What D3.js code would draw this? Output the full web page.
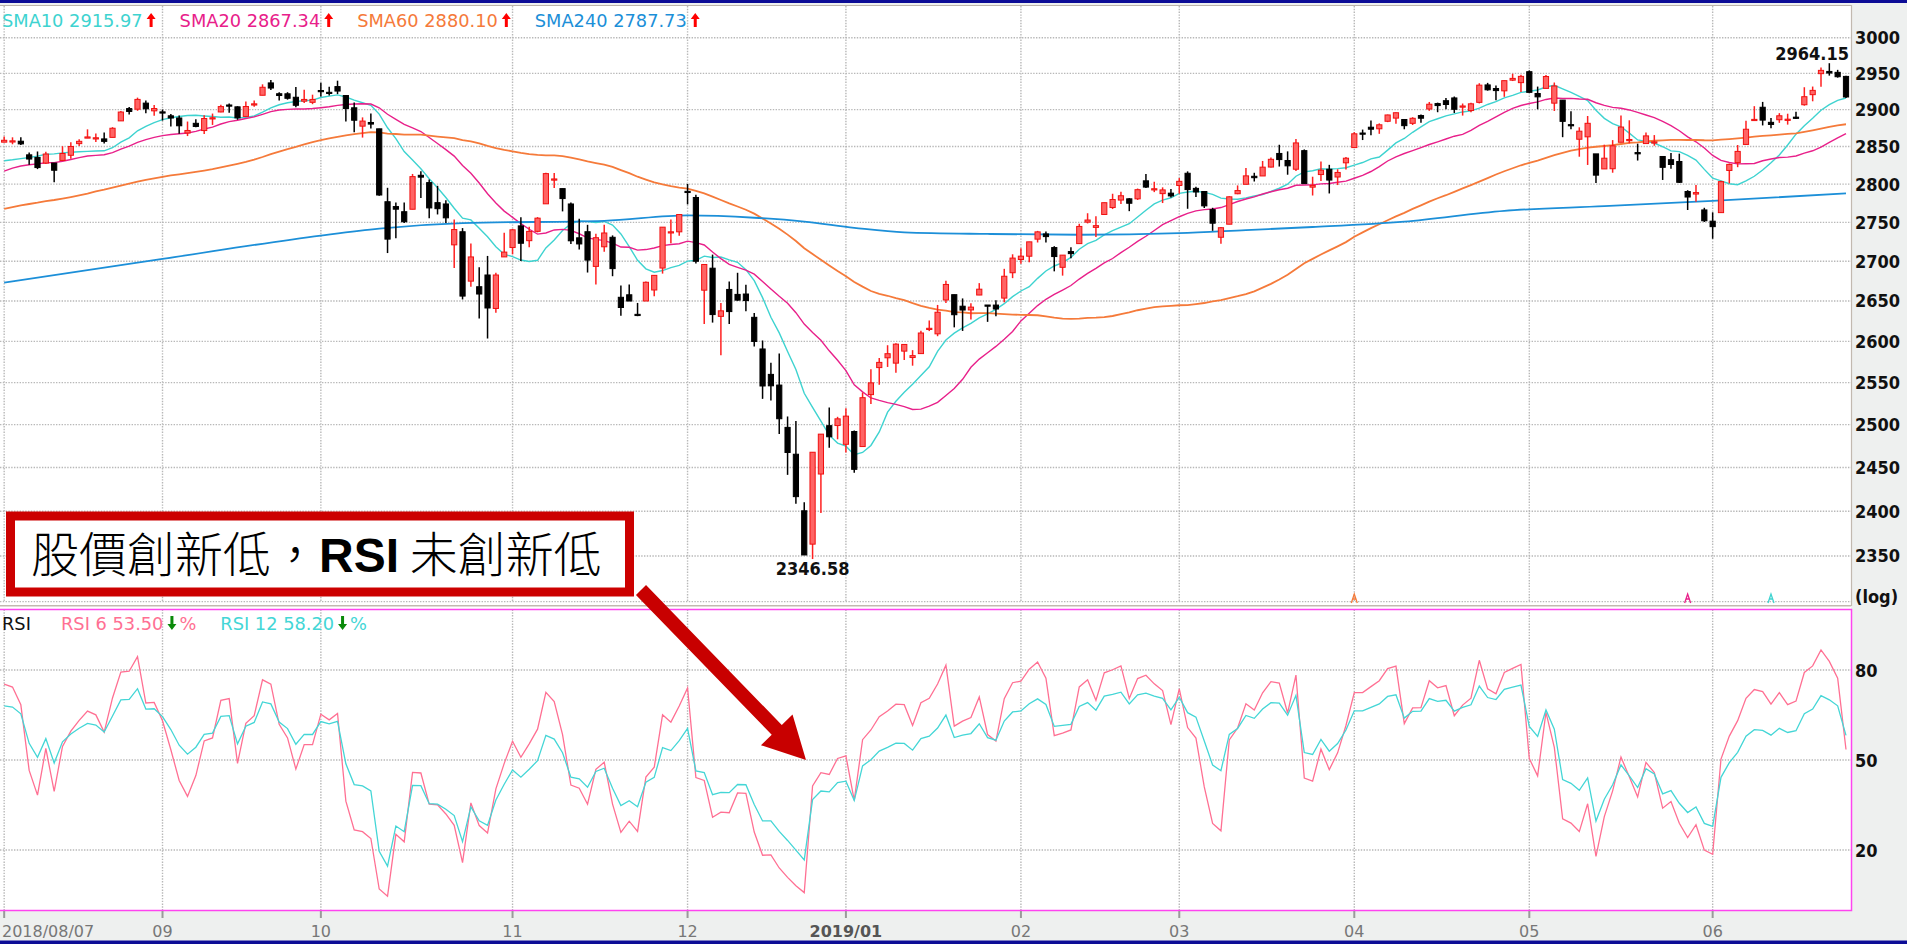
<!DOCTYPE html>
<html>
<head>
<meta charset="utf-8">
<script src="https://cdn.jsdelivr.net/npm/d3@7"></script>
<style>
  html, body { margin: 0; padding: 0; background: #fff; overflow: hidden; }
  svg { display: block; }
</style>
</head>
<body>
<div class="canvas"></div>
<script>
// ---------- data (daily bars 2018/08/07 - 2019/06/25) ----------
const monthLabels = ['2018/08/07', '09', '10', '11', '12', '2019/01', '02', '03', '04', '05', '06']
const monthDays = [19, 19, 23, 21, 19, 21, 19, 21, 21, 22, 17]

const opens = [
  2855.92,2856.79,2857.19,2838.90,2835.46,2827.88,2827.95,2831.44,2838.32,2853.93,2861.51,2860.99,2860.29,2862.35,2884.69,2901.45,2900.62,2908.94,2898.37,
  2896.96,2891.59,2888.64,2868.26,2881.39,2871.57,2888.29,2896.85,2906.38,2903.83,2890.74,2906.60,2919.73,2936.76,2921.83,2921.75,2916.98,2911.65,2910.03,
  2926.29,2923.80,2931.69,2919.35,2902.54,2877.53,2882.51,2873.90,2776.87,2770.54,2763.83,2767.05,2811.67,2802.00,2775.66,2773.94,2721.03,2737.87,2674.88,2667.86,2682.65,2640.68,2705.60,
  2717.58,2745.45,2726.37,2738.40,2774.13,2806.38,2794.10,2773.93,2730.05,2737.90,2693.52,2718.54,2730.74,2654.60,2657.74,2633.36,2649.97,2663.75,2691.45,2736.97,2737.76,
  2790.50,2782.43,2663.51,2691.26,2630.86,2664.44,2658.23,2658.70,2629.68,2590.75,2559.90,2547.05,2496.77,2465.38,2400.56,2363.12,2442.50,2498.77,2498.94,
  2476.96,2491.92,2474.33,2535.61,2568.11,2580.00,2573.51,2588.11,2580.31,2585.10,2614.75,2609.28,2651.27,2657.88,2643.48,2638.84,2657.44,2644.97,2644.89,2653.62,2685.49,
  2702.32,2706.49,2728.34,2735.05,2717.53,2692.36,2712.40,2722.61,2750.30,2743.50,2760.24,2769.28,2779.05,2780.67,2780.67,2804.35,2792.36,2787.50,2788.11,
  2798.22,2814.37,2794.41,2790.27,2766.53,2730.79,2747.61,2787.34,2799.78,2810.38,2810.79,2822.61,2840.76,2831.34,2819.72,2844.52,2796.01,2812.66,2819.72,2809.40,2828.27,
  2848.63,2868.24,2876.09,2873.99,2884.16,2888.46,2886.58,2881.37,2891.92,2900.86,2908.32,2912.26,2916.04,2904.81,2898.78,2909.99,2934.00,2928.99,2925.81,2940.58,2937.14,
  2952.33,2922.16,2929.21,2908.89,2913.03,2879.61,2859.84,2863.10,2840.19,2820.12,2820.38,2855.80,2858.60,2841.94,2854.02,2856.06,2836.70,2832.41,2830.03,2790.25,2786.94,2766.15,
  2751.53,2762.64,2818.09,2828.51,2852.87,2885.83,2903.27,2882.73,2886.24,2886.82,2889.75,2906.71,2920.55,2949.60,2952.71,2951.42,2945.78
]
const highs = [
  2863.43,2862.44,2862.48,2842.20,2843.40,2843.11,2827.95,2850.49,2855.63,2859.76,2873.23,2867.54,2868.78,2876.16,2898.25,2903.77,2916.50,2912.46,2906.32,
  2900.18,2894.21,2892.05,2883.81,2886.93,2892.52,2894.65,2906.76,2908.30,2904.65,2911.17,2912.36,2934.80,2940.91,2923.79,2923.95,2931.15,2927.22,2920.53,
  2937.06,2931.42,2939.86,2919.78,2909.64,2889.45,2894.83,2874.02,2795.14,2775.77,2775.99,2813.46,2816.94,2806.04,2797.77,2778.94,2753.59,2742.59,2722.70,2692.38,2706.85,2685.43,2736.69,
  2741.67,2756.55,2744.27,2756.82,2815.15,2814.75,2794.10,2775.99,2754.60,2746.80,2735.38,2746.75,2733.16,2669.44,2670.73,2647.55,2674.35,2682.53,2744.00,2753.75,2760.88,
  2800.18,2785.93,2696.15,2708.54,2647.51,2674.35,2685.44,2670.19,2635.07,2601.13,2573.99,2585.29,2509.63,2504.41,2410.34,2467.76,2489.10,2520.27,2509.24,
  2519.49,2493.14,2538.07,2566.16,2579.82,2595.32,2597.82,2596.27,2589.32,2613.08,2625.76,2645.06,2675.47,2657.88,2653.19,2647.20,2672.38,2644.97,2650.93,2690.44,2708.95,
  2716.66,2724.99,2738.98,2738.08,2719.32,2708.07,2718.05,2748.19,2761.85,2757.90,2775.66,2787.33,2789.88,2781.58,2794.20,2813.49,2803.12,2795.76,2793.73,
  2808.02,2816.88,2796.44,2790.27,2768.98,2744.13,2784.00,2798.32,2821.24,2815.00,2830.73,2835.41,2852.42,2843.54,2860.31,2846.16,2809.79,2829.87,2825.56,2819.71,2836.03,
  2869.40,2872.90,2885.25,2881.28,2893.24,2895.95,2886.88,2889.71,2893.42,2910.54,2909.60,2916.06,2918.00,2908.40,2909.51,2936.31,2936.83,2933.10,2939.88,2949.52,2948.22,
  2954.13,2931.68,2947.85,2937.32,2913.03,2897.96,2875.97,2891.31,2840.19,2852.54,2858.68,2892.15,2885.48,2853.86,2868.88,2865.47,2836.70,2841.36,2840.51,2792.03,2799.00,2768.98,
  2763.07,2804.49,2827.28,2852.10,2884.97,2904.77,2910.61,2888.57,2895.24,2894.45,2897.27,2930.79,2931.74,2958.06,2964.15,2954.92,2946.52
]
const lows = [
  2855.92,2853.09,2851.98,2825.81,2819.88,2826.58,2802.49,2831.44,2833.73,2850.62,2861.32,2856.05,2854.03,2862.35,2884.69,2893.50,2898.40,2895.22,2891.73,
  2885.13,2876.92,2867.29,2864.12,2875.94,2866.78,2879.20,2896.39,2895.77,2886.16,2890.43,2903.82,2919.73,2927.11,2912.63,2913.70,2903.28,2909.27,2907.50,
  2917.91,2919.37,2921.36,2883.92,2869.29,2862.08,2874.27,2784.86,2710.51,2729.44,2749.03,2766.91,2781.81,2755.18,2760.27,2749.22,2691.43,2651.89,2667.84,2628.16,2603.54,2635.34,2705.60,
  2708.85,2700.44,2717.94,2737.08,2774.13,2794.99,2764.24,2722.00,2714.98,2685.75,2670.75,2712.16,2681.09,2631.52,2649.82,2631.09,2649.97,2655.89,2684.38,2722.94,2732.76,
  2773.38,2697.18,2621.53,2623.14,2583.23,2621.30,2650.26,2637.27,2593.84,2530.54,2528.71,2488.96,2441.53,2408.55,2351.10,2346.58,2397.94,2472.89,2482.82,
  2467.47,2443.96,2474.33,2524.56,2547.56,2568.89,2562.02,2577.40,2570.41,2585.10,2612.68,2606.36,2647.58,2617.27,2612.86,2627.01,2657.33,2624.06,2631.05,2648.34,2678.65,
  2696.88,2698.75,2724.03,2724.15,2687.26,2681.83,2703.79,2722.61,2748.63,2731.23,2760.24,2767.29,2774.06,2764.55,2779.11,2794.99,2789.47,2775.13,2782.51,
  2787.38,2767.66,2782.97,2768.69,2739.09,2722.27,2747.61,2786.73,2799.78,2803.46,2810.79,2821.99,2823.27,2812.43,2817.38,2800.47,2785.02,2803.99,2787.72,2798.77,2819.23,
  2848.63,2858.75,2865.17,2867.14,2882.99,2880.78,2873.33,2879.13,2881.99,2898.37,2896.48,2900.71,2895.45,2891.90,2896.35,2908.53,2926.05,2912.84,2917.56,2939.35,2924.11,
  2923.36,2900.50,2929.21,2898.21,2862.60,2873.28,2836.40,2825.39,2801.43,2820.12,2815.08,2855.80,2854.23,2831.29,2854.02,2851.11,2805.49,2820.19,2801.58,2766.06,2776.74,2750.52,
  2728.81,2762.64,2800.92,2822.45,2852.87,2885.51,2878.53,2874.68,2881.99,2879.62,2887.30,2905.44,2911.43,2931.50,2946.87,2944.05,2916.01
]
const closes = [
  2858.45,2857.70,2853.58,2833.28,2821.93,2839.96,2818.37,2840.69,2850.13,2857.05,2862.96,2861.82,2856.98,2874.69,2896.74,2897.52,2914.04,2901.13,2901.52,
  2896.72,2888.60,2878.05,2871.68,2877.13,2887.89,2888.92,2904.18,2904.98,2888.80,2904.31,2907.95,2930.75,2929.67,2919.37,2915.56,2905.97,2914.00,2913.98,
  2924.59,2923.43,2925.51,2901.61,2885.57,2884.43,2880.34,2785.68,2728.37,2767.13,2750.79,2809.92,2809.21,2768.78,2767.78,2755.88,2740.69,2656.10,2705.57,2658.69,2641.25,2682.63,2711.74,
  2740.37,2723.06,2738.31,2755.45,2813.89,2806.83,2781.01,2726.22,2722.18,2701.58,2730.20,2736.27,2690.73,2641.89,2649.93,2632.56,2673.45,2682.17,2743.79,2737.80,2760.17,
  2790.37,2700.06,2695.95,2633.08,2637.72,2636.78,2651.07,2650.54,2599.95,2545.94,2546.16,2506.96,2467.42,2416.62,2351.10,2467.70,2488.83,2485.74,2506.85,
  2510.03,2447.89,2531.94,2549.69,2574.41,2584.96,2596.64,2596.26,2582.61,2610.30,2616.10,2635.96,2670.71,2632.90,2638.70,2642.33,2664.76,2643.85,2640.00,2681.05,2704.10,
  2706.53,2724.87,2737.70,2731.61,2706.05,2707.88,2709.80,2744.73,2753.03,2745.73,2775.60,2779.76,2784.70,2774.88,2792.67,2796.11,2793.90,2792.38,2784.49,
  2803.69,2792.81,2789.65,2771.45,2748.93,2743.07,2783.30,2791.52,2810.92,2808.48,2822.48,2832.94,2832.57,2824.23,2854.88,2800.71,2798.36,2818.46,2805.37,2815.44,2834.40,
  2867.19,2867.24,2873.40,2879.39,2892.74,2895.77,2878.20,2888.21,2888.32,2907.41,2905.58,2907.06,2900.45,2905.03,2907.97,2933.68,2927.25,2926.17,2939.88,2943.03,2945.83,
  2923.73,2917.52,2945.64,2932.47,2884.05,2879.42,2870.72,2881.40,2811.87,2834.41,2850.96,2876.32,2859.53,2840.23,2864.36,2856.27,2822.24,2826.06,2802.39,2783.02,2788.86,2752.06,
  2744.45,2803.27,2826.15,2843.49,2873.34,2886.73,2885.72,2879.84,2891.64,2886.98,2889.67,2917.75,2926.46,2954.18,2950.46,2945.35,2917.38
]
// closes before the first visible bar (2018/05/10 - 2018/08/06), used for averages / RSI warm-up
const priorCloses = [
  2723.07,2727.72,2730.13,2711.45,2722.46,2720.13,2712.97,2733.01,2724.44,2733.29,2727.76,2721.33,2689.86,2724.01,2705.27,
  2734.62,2746.87,2748.80,2772.35,2770.37,2779.03,2782.00,2786.85,2775.63,2782.49,2779.66,2773.75,2762.59,2767.32,2749.76,2754.88,2717.07,2723.06,2699.63,2716.31,2718.37,
  2726.71,2713.22,2736.61,2759.82,2784.17,2793.84,2774.02,2798.29,2801.31,2798.43,2809.55,2815.62,2804.49,2801.83,2806.98,2820.40,2846.07,2837.44,2818.82,2802.60,2816.29,2813.36,2827.22,2840.35,2850.40
]
// SMA240 (bar index, value)
const sma240Idx = [0, 19, 38, 45, 55, 72, 82, 90, 96, 102, 108, 118, 129, 141, 149, 157, 168, 180, 192, 205, 221]
const sma240Vals = [2673, 2703, 2733, 2742, 2749, 2752, 2759, 2756, 2751, 2743, 2737, 2735, 2734, 2736, 2740, 2744, 2751, 2765, 2771, 2778, 2787.73]

const priceTicks = [2350, 2400, 2450, 2500, 2550, 2600, 2650, 2700, 2750, 2800, 2850, 2900, 2950, 3000]
const rsiTicks = [20, 50, 80]
const smaNames = ['SMA10', 'SMA20', 'SMA60', 'SMA240']
const smaLast = ['2915.97', '2867.34', '2880.10', '2787.73']
const rsiNames = ['RSI 6', 'RSI 12']
const rsiLast = ['53.50', '58.20']
const signalIdx = [162, 202, 212]   // small cross markers at the foot of the price panel
const signalLine = [2, 1, 0]        // which SMA each marker belongs to

// ---------- layout ----------
const W = 1907, H = 944
const plotR = 1851
const priceTop = 6, priceBot = 602
const rsiTop = 609.5, rsiBot = 910.5
const smaColors = ['#3ed3d0', '#e8208a', '#f57a3a', '#1c8fd8']
const rsiColors = ['#ff7093', '#44d6d6']
const numFont = "'DejaVu Sans Condensed', 'DejaVu Sans', sans-serif"

const svg = d3.select('.canvas').append('svg').attr('width', W).attr('height', H)

// backgrounds and frame
svg.append('rect').attr('width', W).attr('height', H).attr('fill', '#eef0ef')
svg.append('rect').attr('x', 0).attr('y', priceTop).attr('width', plotR).attr('height', rsiBot - priceTop).attr('fill', '#fff')

const n = closes.length
const x = d3.scaleLinear().domain([-0.5, n - 0.4]).range([0, plotR])
const y = d3.scaleLog().domain([2300, 3000]).range([601.6, 37.7])
const yR = d3.scaleLinear().domain([0, 100]).range([910, 610])

// month start indices from the trading-day counts
const monthStart = []
monthDays.reduce((acc, d) => { monthStart.push(acc); return acc + d }, 0)

// derived indicators from the closes
const all = priorCloses.concat(closes)
const off = priorCloses.length
const sma = (len) => closes.map((c, i) => d3.mean(all.slice(off + i - len + 1, off + i + 1)))
const rsi = (len) => {
  let g = 0, l = 0
  const out = []
  for (let k = 1; k < all.length; k++) {
    const ch = all[k] - all[k - 1]
    const up = Math.max(ch, 0), dn = Math.max(-ch, 0)
    if (k <= len) { g += up / len; l += dn / len }
    else { g = (g * (len - 1) + up) / len; l = (l * (len - 1) + dn) / len }
    if (k >= off) out.push(100 * g / (g + l))
  }
  return out
}
const sma10 = sma(10), sma20 = sma(20), sma60 = sma(60)
const rsi6 = rsi(6), rsi12 = rsi(12)

// clip paths
const defs = svg.append('defs')
defs.append('clipPath').attr('id', 'clipP').append('rect').attr('x', 0).attr('y', priceTop).attr('width', plotR).attr('height', priceBot - priceTop + 1)
defs.append('clipPath').attr('id', 'clipR').append('rect').attr('x', 0).attr('y', rsiTop).attr('width', plotR).attr('height', rsiBot - rsiTop)

// grid
const grid = svg.append('g').attr('stroke', '#b8b8b8').attr('stroke-width', 1.4).attr('stroke-dasharray', '1.4,1.4').attr('fill', 'none')
grid.selectAll('.hp').data([2300].concat(priceTicks)).join('line')
  .attr('x1', 0).attr('x2', plotR).attr('y1', d => y(d)).attr('y2', d => y(d))
grid.selectAll('.hr').data(rsiTicks).join('line')
  .attr('x1', 0).attr('x2', plotR).attr('y1', d => yR(d)).attr('y2', d => yR(d))
grid.selectAll('.vp').data(monthStart).join('line')
  .attr('x1', d => x(d)).attr('x2', d => x(d)).attr('y1', priceTop).attr('y2', priceBot)
grid.selectAll('.vr').data(monthStart).join('line')
  .attr('x1', d => x(d)).attr('x2', d => x(d)).attr('y1', rsiTop).attr('y2', rsiBot)

// frame lines
svg.append('rect').attr('x', 0).attr('y', 0).attr('width', W).attr('height', 3).attr('fill', '#0c0c96')
svg.append('line').attr('x1', 0).attr('x2', plotR).attr('y1', 5.5).attr('y2', 5.5).attr('stroke', '#bcb3aa').attr('stroke-width', 1.2)
svg.append('line').attr('x1', plotR + 0.5).attr('x2', plotR + 0.5).attr('y1', 5).attr('y2', 606).attr('stroke', '#c2b9b0').attr('stroke-width', 1.2)
svg.append('line').attr('x1', 0).attr('x2', plotR).attr('y1', 605.7).attr('y2', 605.7).attr('stroke', '#c2b9b0').attr('stroke-width', 1.5)
svg.append('rect').attr('x', -2).attr('y', rsiTop).attr('width', plotR + 2.5).attr('height', rsiBot - rsiTop)
  .attr('fill', 'none').attr('stroke', '#ff44f0').attr('stroke-width', 1.5)

// moving averages
const priceG = svg.append('g').attr('clip-path', 'url(#clipP)')
const line = d3.line().x((d, i) => x(i)).y(d => y(d))
const smaSeries = [sma10, sma20, sma60]
const smaWidth = [1.4, 1.4, 1.8, 1.8]
smaSeries.forEach((s, k) => {
  priceG.append('path').datum(s).attr('d', line).attr('fill', 'none')
    .attr('stroke', smaColors[k]).attr('stroke-width', smaWidth[k])
})
priceG.append('path').datum(sma240Idx.map((d, k) => [d, sma240Vals[k]]))
  .attr('d', d3.line().x(d => x(d[0])).y(d => y(d[1])).curve(d3.curveMonotoneX))
  .attr('fill', 'none').attr('stroke', smaColors[3]).attr('stroke-width', smaWidth[3])

// candles
const bars = closes.map((c, i) => ({ i, o: opens[i], h: highs[i], l: lows[i], c }))
const candle = priceG.selectAll('.candle').data(bars).join('g').attr('class', 'candle')
candle.append('line')
  .attr('x1', d => x(d.i)).attr('x2', d => x(d.i))
  .attr('y1', d => y(d.h)).attr('y2', d => y(d.l))
  .attr('stroke', d => d.c >= d.o ? '#ff2020' : '#000').attr('stroke-width', 1.5)
candle.append('rect')
  .attr('x', d => x(d.i) - 2.6).attr('width', 5.2)
  .attr('y', d => y(Math.max(d.o, d.c)))
  .attr('height', d => Math.max(1.2, y(Math.min(d.o, d.c)) - y(Math.max(d.o, d.c))))
  .attr('fill', d => d.c >= d.o ? '#ff6464' : '#000')
  .attr('stroke', d => d.c >= d.o ? '#f01010' : '#000').attr('stroke-width', 1)

// high / low labels
const hiIdx = d3.maxIndex(highs), loIdx = d3.minIndex(lows)
svg.append('text').attr('x', plotR - 2).attr('y', y(highs[hiIdx]) - 3).attr('text-anchor', 'end')
  .attr('font-family', numFont).attr('font-stretch', 'condensed').attr('font-weight', 'bold').attr('font-size', 18)
  .attr('fill', '#111').text(highs[hiIdx].toFixed(2))
svg.append('text').attr('x', x(loIdx)).attr('y', y(lows[loIdx]) + 16).attr('text-anchor', 'middle')
  .attr('font-family', numFont).attr('font-stretch', 'condensed').attr('font-weight', 'bold').attr('font-size', 18)
  .attr('fill', '#111').text(lows[loIdx].toFixed(2))

// signal markers
svg.selectAll('.sig').data(signalIdx).join('path')
  .attr('d', (d, k) => `M${x(d) - 3},${priceBot + 1} L${x(d)},${priceBot - 8} L${x(d) + 3},${priceBot + 1} M${x(d) - 1.6},${priceBot - 3} L${x(d) + 1.6},${priceBot - 3}`)
  .attr('fill', 'none').attr('stroke', (d, k) => smaColors[signalLine[k]]).attr('stroke-width', 1.3)

// RSI lines
const rsiG = svg.append('g').attr('clip-path', 'url(#clipR)')
const rline = d3.line().x((d, i) => x(i)).y(d => yR(d))
;[rsi6, rsi12].forEach((s, k) => {
  rsiG.append('path').datum(s).attr('d', rline).attr('fill', 'none')
    .attr('stroke', rsiColors[k]).attr('stroke-width', 1.3)
})

// right axis labels
const axisR = svg.append('g').attr('font-family', numFont).attr('font-stretch', 'condensed')
  .attr('font-weight', 'bold').attr('font-size', 18).attr('fill', '#111')
axisR.selectAll('.pl').data(priceTicks).join('text').attr('x', 1855).attr('y', d => y(d) + 6.5).text(d => d)
axisR.append('text').attr('x', 1855).attr('y', 603).text('(log)')
axisR.selectAll('.rl').data(rsiTicks).join('text').attr('x', 1855).attr('y', d => yR(d) + 6.5).text(d => d)

// bottom axis
svg.selectAll('.tk').data(monthStart).join('line')
  .attr('x1', d => x(d)).attr('x2', d => x(d)).attr('y1', rsiBot + 0.5).attr('y2', 918)
  .attr('stroke', '#9a9a9a').attr('stroke-width', 2)
svg.selectAll('.ml').data(monthLabels).join('text')
  .attr('x', (d, k) => k === 0 ? 2 : x(monthStart[k]))
  .attr('y', 936.5)
  .attr('text-anchor', (d, k) => k === 0 ? 'start' : 'middle')
  .attr('font-family', "'DejaVu Sans', sans-serif")
  .attr('font-size', 16)
  .attr('font-weight', d => d.length === 7 ? 'bold' : 'normal')
  .attr('fill', d => d.length === 7 ? '#555' : '#777')
  .text(d => d)

// legend arrows
function arrow(g, x0, top, color, down) {
  const h = 14, w = 9, hh = 6
  const p = down
    ? `M${x0 + 3},${top} L${x0 + 6},${top} L${x0 + 6},${top + h - hh} L${x0 + w},${top + h - hh} L${x0 + w / 2},${top + h} L${x0},${top + h - hh} L${x0 + 3},${top + h - hh} Z`
    : `M${x0 + w / 2},${top} L${x0 + w},${top + hh} L${x0 + 6},${top + hh} L${x0 + 6},${top + h} L${x0 + 3},${top + h} L${x0 + 3},${top + hh} L${x0},${top + hh} Z`
  g.append('path').attr('d', p).attr('fill', color)
}

// SMA legend
const leg = svg.append('g').attr('font-family', "'DejaVu Sans', sans-serif").attr('font-size', 17.8)
let lx = 2
smaNames.forEach((name, k) => {
  const t = leg.append('text').attr('x', lx).attr('y', 26.5).attr('fill', smaColors[k]).text(name + ' ' + smaLast[k])
  const w = t.node().getComputedTextLength()
  arrow(leg, lx + w + 4, 13, '#ff0000', false)
  lx += w + 4 + 9 + 24
})

// RSI legend
const rleg = svg.append('g').attr('font-family', "'DejaVu Sans', sans-serif").attr('font-size', 17.8)
rleg.append('text').attr('x', 2).attr('y', 629.5).attr('fill', '#111').text('RSI')
let rx = 61
rsiNames.forEach((name, k) => {
  const t = rleg.append('text').attr('x', rx).attr('y', 629.5).attr('fill', rsiColors[k]).text(name + ' ' + rsiLast[k])
  const w = t.node().getComputedTextLength()
  arrow(rleg, rx + w + 4, 616, '#0a8a0a', true)
  const p = rleg.append('text').attr('x', rx + w + 16).attr('y', 629.5).attr('fill', rsiColors[k]).text('%')
  rx += w + 16 + p.node().getComputedTextLength() + 24
})

// annotation box and arrow
const note = svg.append('g')
note.append('rect').attr('x', 10.5).attr('y', 516).attr('width', 619).attr('height', 76)
  .attr('fill', '#fff').attr('stroke', '#cc0000').attr('stroke-width', 9)
const nt = note.append('text').attr('x', 31).attr('y', 572).attr('font-size', 48).attr('fill', '#000')
  .attr('font-family', "'Noto Sans CJK TC', 'Noto Sans CJK SC', sans-serif").attr('font-weight', 300)
nt.append('tspan').text('股價創新低，')
nt.append('tspan').attr('font-family', "'Liberation Sans', Arial, sans-serif").attr('font-weight', 'bold').text('RSI')
nt.append('tspan').text(' 未創新低')

const tail = [641, 590], tip = [806, 760]
const len = Math.hypot(tip[0] - tail[0], tip[1] - tail[1])
const ux = (tip[0] - tail[0]) / len, uy = (tip[1] - tail[1]) / len
const nx = -uy, ny = ux
const sw = 7, hw = 22, hl = 42
const bx = tip[0] - ux * hl, by = tip[1] - uy * hl
const pts = [
  [tail[0] + nx * sw, tail[1] + ny * sw],
  [bx + nx * sw, by + ny * sw],
  [bx + nx * hw, by + ny * hw],
  tip,
  [bx - nx * hw, by - ny * hw],
  [bx - nx * sw, by - ny * sw],
  [tail[0] - nx * sw, tail[1] - ny * sw]
]
note.append('path').attr('d', 'M' + pts.map(p => p.join(',')).join('L') + 'Z').attr('fill', '#c80000')

// bottom band
svg.append('rect').attr('x', 0).attr('y', 940.5).attr('width', W).attr('height', 4).attr('fill', '#0c0c96')
</script>
</body>
</html>
